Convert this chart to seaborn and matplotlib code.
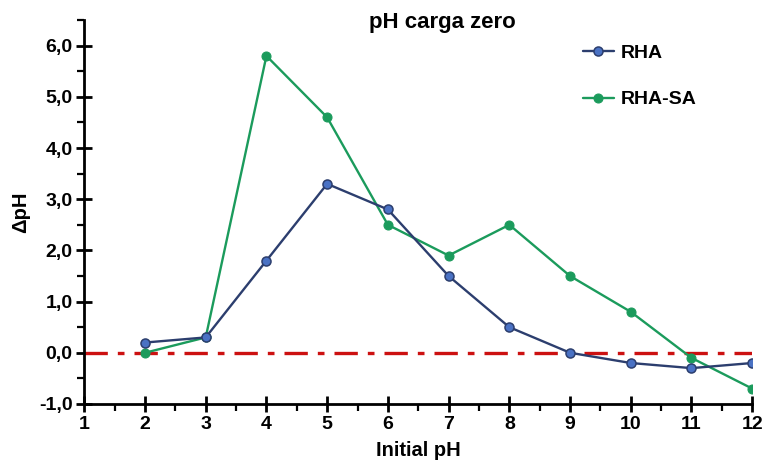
import matplotlib
matplotlib.use("Agg")
import matplotlib.pyplot as plt
from matplotlib.ticker import MultipleLocator, FuncFormatter
import numpy as np
import pandas as pd
import seaborn as sns

initial_ph = [2, 3, 4, 5, 6, 7, 8, 9, 10, 11, 12]
rha = [0.2, 0.3, 1.8, 3.3, 2.8, 1.5, 0.5, 0.0, -0.2, -0.3, -0.2]
rha_sa = [0.0, 0.3, 5.8, 4.6, 2.5, 1.9, 2.5, 1.5, 0.8, -0.1, -0.7]

sns.set_style("ticks")
plt.rcParams['font.family'] = ['Liberation Sans', 'DejaVu Sans']
plt.rcParams['font.weight'] = 'bold'
plt.rcParams['text.color'] = 'black'
plt.rcParams['axes.labelcolor'] = 'black'
plt.rcParams['xtick.color'] = 'black'
plt.rcParams['ytick.color'] = 'black'

fig = plt.figure(figsize=(7.66, 4.67), dpi=100)
ax = fig.add_axes([0.110, 0.135, 0.872, 0.822])

# zero reference line
ax.plot([1, 12], [0, 0], color="#cc1111", lw=2.4, ls=(0, (7, 3, 2, 3)), zorder=1)

sns.lineplot(x=initial_ph, y=rha, ax=ax, color="#2c3e6e", lw=1.7, marker="o",
             markersize=6.5, markerfacecolor="#4a72c4", markeredgecolor="#2c3e6e",
             markeredgewidth=1.1, label="RHA", zorder=3)
sns.lineplot(x=initial_ph, y=rha_sa, ax=ax, color="#1b9b5c", lw=1.7, marker="o",
             markersize=6.5, markerfacecolor="#1b9b5c", markeredgecolor="#1b9b5c",
             label="RHA-SA", zorder=2)

ax.set_xlim(1, 12)
ax.set_ylim(-1, 6.5)
ax.xaxis.set_major_locator(MultipleLocator(1))
ax.xaxis.set_minor_locator(MultipleLocator(0.5))
ax.yaxis.set_major_locator(MultipleLocator(1))
ax.yaxis.set_minor_locator(MultipleLocator(0.5))
ax.yaxis.set_major_formatter(FuncFormatter(lambda v, p: f"{v:.1f}".replace(".", ",")))
ax.tick_params(which="major", direction="inout", length=11, width=2, labelsize=14, pad=3)
ax.tick_params(which="minor", direction="out", length=5, width=1.6)
for lab in ax.get_xticklabels() + ax.get_yticklabels():
    lab.set_fontweight("bold")

sns.despine(ax=ax)
for s in ["left", "bottom"]:
    ax.spines[s].set_linewidth(2)
    ax.spines[s].set_color("black")

ax.set_xlabel("Initial pH", fontsize=14.5, fontweight="bold", labelpad=6)
ax.set_ylabel("ΔpH", fontsize=14.5, fontweight="bold", labelpad=6)
fig.text(0.577, 0.952, "pH carga zero", fontsize=16, fontweight="bold", ha="center", va="center")

leg = ax.legend(loc="upper left", bbox_to_anchor=(0.72, 0.983), frameon=False,
                fontsize=14, handlelength=1.6, labelspacing=1.5, handletextpad=0.35)
for t in leg.get_texts():
    t.set_fontweight("bold")

fig.savefig("out.png", dpi=100)
